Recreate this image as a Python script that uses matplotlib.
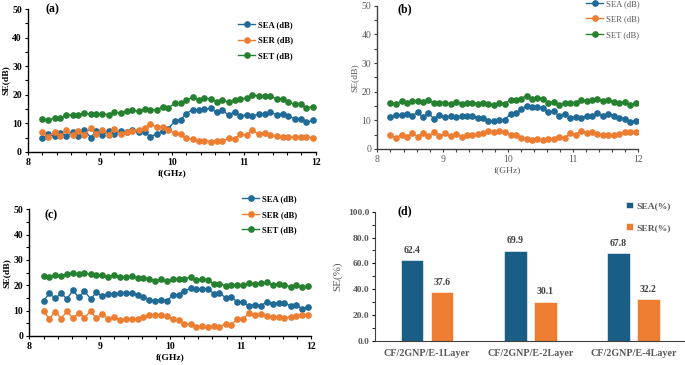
import matplotlib
matplotlib.use('Agg')
import matplotlib.pyplot as plt
import numpy as np

plt.rcParams['font.family'] = ['Liberation Serif', 'DejaVu Serif']

# frequency sweep (GHz)
freq = [8.20, 8.28, 8.37, 8.45, 8.53, 8.62, 8.70, 8.78, 8.87, 8.95,
        9.03, 9.12, 9.20, 9.29, 9.37, 9.45, 9.54, 9.62, 9.70, 9.79,
        9.87, 9.95, 10.04, 10.12, 10.20, 10.29, 10.37, 10.45, 10.54, 10.62,
        10.70, 10.79, 10.87, 10.95, 11.04, 11.12, 11.21, 11.29, 11.37, 11.46,
        11.54, 11.62, 11.71, 11.79, 11.87, 11.96]

# (a)
sea_a = [4.8, 6.2, 5.5, 6.6, 5.4, 7.1, 5.7, 7.8, 5.0, 7.4, 6.0, 7.2, 6.2, 7.3, 6.8, 7.6,
         6.9, 6.9, 5.3, 6.3, 7.4, 8.0, 10.8, 11.2, 13.4, 14.8, 14.6, 15.0, 15.2, 13.8, 14.6,
         12.8, 14.0, 12.6, 13.0, 12.6, 13.2, 13.2, 13.8, 13.0, 13.4, 12.4, 11.6, 11.6, 10.4, 11.0]
ser_a = [6.8, 5.2, 6.9, 5.5, 7.5, 5.8, 7.4, 6.0, 8.2, 6.2, 7.8, 6.0, 8.0, 6.2, 7.1, 7.2,
         7.8, 8.4, 9.8, 8.6, 8.6, 7.6, 6.6, 6.1, 4.7, 4.5, 3.8, 3.9, 3.6, 3.9, 3.8,
         4.7, 4.4, 6.1, 5.9, 7.5, 6.3, 6.6, 5.8, 5.4, 5.3, 5.1, 5.2, 5.2, 5.3, 4.9]
set_a = [11.4, 11.0, 12.0, 11.8, 12.8, 13.0, 12.8, 13.6, 13.2, 13.2, 13.4, 13.0, 14.0, 13.5, 14.3, 14.6,
         14.2, 15.0, 14.8, 14.8, 15.7, 15.4, 17.0, 17.0, 18.0, 19.2, 18.2, 18.8, 18.6, 17.6, 18.2,
         17.4, 18.2, 18.6, 18.8, 20.0, 19.5, 19.6, 19.6, 18.4, 18.6, 17.4, 16.6, 16.6, 15.4, 15.8]

# (b)
sea_b = [11.2, 12.0, 11.8, 12.2, 11.6, 12.8, 11.0, 12.6, 10.4, 12.0, 11.0, 11.4, 11.2, 11.4, 11.4, 11.6,
         10.8, 10.8, 9.6, 9.6, 10.2, 10.2, 12.2, 12.4, 14.0, 15.0, 14.6, 14.6, 14.4, 12.8, 13.2,
         11.4, 12.2, 10.8, 11.2, 10.8, 11.4, 11.6, 12.4, 11.6, 12.2, 11.6, 10.8, 10.6, 9.4, 9.8]
ser_b = [5.0, 3.8, 5.0, 4.0, 5.4, 4.2, 5.6, 4.4, 5.8, 4.4, 5.4, 4.4, 5.2, 4.2, 4.8, 4.8,
         5.2, 5.4, 6.4, 6.0, 6.2, 5.8, 5.0, 4.8, 3.8, 3.6, 3.0, 3.4, 3.0, 3.6, 3.4,
         4.2, 3.8, 5.4, 5.0, 6.4, 5.6, 5.8, 5.2, 5.0, 5.0, 5.0, 5.2, 5.8, 6.0, 6.0]
set_b = [16.2, 15.8, 16.6, 16.0, 16.8, 16.8, 16.4, 17.0, 16.2, 16.2, 16.2, 15.6, 16.4, 15.6, 16.2, 16.2,
         15.8, 16.2, 15.8, 15.4, 16.2, 15.8, 17.2, 17.0, 17.6, 18.6, 17.6, 17.8, 17.4, 16.2, 16.4,
         15.4, 16.0, 16.0, 16.2, 17.2, 16.8, 17.2, 17.6, 16.6, 17.2, 16.4, 16.0, 16.4, 15.2, 16.0]

# (c)
sea_c = [13.8, 16.8, 14.8, 17.0, 14.6, 18.0, 15.2, 17.8, 14.6, 17.2, 15.8, 16.6, 16.4, 17.0, 16.8, 17.0,
         16.2, 15.4, 14.4, 13.8, 14.2, 14.0, 16.0, 16.2, 17.8, 18.8, 18.6, 18.6, 18.6, 16.6, 17.0,
         15.0, 15.2, 13.6, 13.4, 11.8, 12.4, 12.0, 13.4, 12.8, 13.2, 13.2, 11.8, 12.2, 10.8, 11.6]
ser_c = [10.0, 6.8, 9.6, 6.8, 9.8, 7.0, 9.2, 7.2, 9.8, 7.0, 8.6, 6.8, 7.6, 6.2, 6.6, 6.6,
         6.6, 7.4, 8.4, 8.2, 8.2, 7.8, 6.6, 6.4, 4.8, 4.6, 3.6, 3.8, 3.4, 3.8, 3.6,
         4.8, 4.4, 6.6, 6.8, 9.0, 8.2, 8.8, 7.8, 7.4, 7.4, 7.0, 7.6, 7.8, 8.4, 8.2]
set_c = [23.8, 23.4, 24.2, 23.8, 24.4, 24.8, 24.4, 24.8, 24.4, 24.2, 24.2, 23.4, 24.0, 23.2, 23.4, 23.6,
         22.8, 22.8, 22.6, 21.8, 22.4, 21.6, 22.4, 22.4, 22.4, 23.4, 22.2, 22.4, 22.0, 20.4, 20.6,
         19.8, 20.0, 20.2, 20.0, 20.8, 20.6, 20.8, 21.2, 20.2, 20.6, 20.2, 19.4, 20.0, 19.2, 19.6]

# (d)
samples = ['CF/2GNP/E-1Layer', 'CF/2GNP/E-2Layer', 'CF/2GNP/E-4Layer']
sea_pct = [62.4, 69.9, 67.8]
ser_pct = [37.6, 30.1, 32.2]

c_sea = '#1f6a96'
c_ser = '#ed7d31'
c_set = '#25802f'

fig = plt.figure(figsize=(6.85, 3.65), dpi=100)


def line_panel(rect, sea, ser, st, tag, leg_xy, txt_col, bold, tag_xy, spine_col):
    ax = fig.add_axes(rect)
    w = 'bold' if bold else 'normal'
    ax.plot(freq, sea, '-o', color=c_sea, ms=3.8, lw=1.0, label='SEA (dB)')
    ax.plot(freq, ser, '-o', color=c_ser, ms=3.8, lw=1.0, label='SER (dB)')
    ax.plot(freq, st, '-o', color=c_set, ms=3.8, lw=1.0, label='SET (dB)')
    ax.set_xlim(8, 12)
    ax.set_ylim(0, 50)
    ax.set_xticks([8, 9, 10, 11, 12])
    ax.set_xticks(np.arange(8, 12.01, 0.2), minor=True)
    ax.set_yticks([0, 10, 20, 30, 40, 50])
    ax.set_yticks(np.arange(0, 50.1, 5), minor=True)
    for s in ['top', 'right']:
        ax.spines[s].set_visible(False)
    for s in ['left', 'bottom']:
        ax.spines[s].set_color(spine_col)
        ax.spines[s].set_linewidth(1.0)
    ax.tick_params(which='both', direction='out', colors=spine_col, labelcolor=txt_col,
                   labelsize=7, length=2.5, width=0.8, pad=2)
    ax.tick_params(which='minor', length=2)
    for lb in ax.get_xticklabels() + ax.get_yticklabels():
        lb.set_fontweight(w)
    ax.set_xlabel('f(GHz)', fontsize=6.8, fontweight=w, color=txt_col, labelpad=1.5)
    ax.set_ylabel('SE(dB)', fontsize=6.8, fontweight=w, color=txt_col, labelpad=2)
    ax.text(tag_xy[0], tag_xy[1], tag, transform=ax.transAxes, fontsize=8.5,
            fontweight='bold', va='top', ha='left')
    leg = ax.legend(loc='upper left', bbox_to_anchor=leg_xy, frameon=False,
                    prop={'size': 6.2, 'weight': w}, borderpad=0, borderaxespad=0,
                    handlelength=2.0, handletextpad=0.3, labelspacing=0.85, markerscale=1.0)
    for t in leg.get_texts():
        t.set_color(txt_col)
    return ax


line_panel([0.041, 0.584, 0.420, 0.391], sea_a, ser_a, set_a, '(a)',
           (0.73, 0.915), 'black', True, (0.06, 1.04), 'black')
line_panel([0.551, 0.592, 0.381, 0.392], sea_b, ser_b, set_b, '(b)',
           (0.80, 1.04), '#595959', False, (0.075, 1.02), '#404040')
line_panel([0.043, 0.0795, 0.411, 0.347], sea_c, ser_c, set_c, '(c)',
           (0.755, 1.11), 'black', True, (0.055, 1.0), 'black')

# (d) bars
axd = fig.add_axes([0.548, 0.0666, 0.452, 0.353])
xp = np.arange(len(samples))
bw = 0.22
b1 = axd.bar(xp - 0.145, sea_pct, bw, color='#1a5e85', edgecolor='white', lw=0.4, label='SEA(%)')
b2 = axd.bar(xp + 0.145, ser_pct, bw, color=c_ser, edgecolor='white', lw=0.4, label='SER(%)')
for bars in (b1, b2):
    for b in bars:
        axd.annotate('%.1f' % b.get_height(), (b.get_x() + b.get_width() / 2, b.get_height()),
                     xytext=(0, 4), textcoords='offset points', ha='center', va='bottom',
                     fontsize=7, fontweight='bold', color='#404040')
axd.set_xlim(-0.5, 2.5)
axd.set_ylim(0, 100)
axd.set_xticks(xp)
axd.set_xticklabels(samples)
axd.set_yticks(np.arange(0, 100.1, 20))
axd.set_yticks(np.arange(0, 100.1, 10), minor=True)
axd.yaxis.set_major_formatter(matplotlib.ticker.FormatStrFormatter('%.1f'))
for s in ['top', 'right']:
    axd.spines[s].set_visible(False)
for s in ['left', 'bottom']:
    axd.spines[s].set_color('#404040')
axd.tick_params(axis='y', which='both', direction='out', length=2.5, labelsize=6.8,
                labelcolor='#595959', pad=2)
axd.tick_params(axis='x', length=0, labelsize=7.3, labelcolor='#595959', pad=6)
for lb in axd.get_xticklabels() + axd.get_yticklabels():
    lb.set_fontweight('bold')
axd.set_ylabel('SE(%)', fontsize=8, color='#595959', labelpad=4)
axd.text(0.072, 1.05, '(d)', transform=axd.transAxes, fontsize=8.5, fontweight='bold',
         va='top', ha='left')
legd = axd.legend(loc='upper left', bbox_to_anchor=(0.81, 1.08), frameon=False,
                  prop={'size': 6.8, 'weight': 'bold'}, borderpad=0, borderaxespad=0,
                  handlelength=0.7, handleheight=0.7, handletextpad=0.4, labelspacing=1.4)
for t in legd.get_texts():
    t.set_color('#595959')

plt.savefig('out.png', dpi=100)
